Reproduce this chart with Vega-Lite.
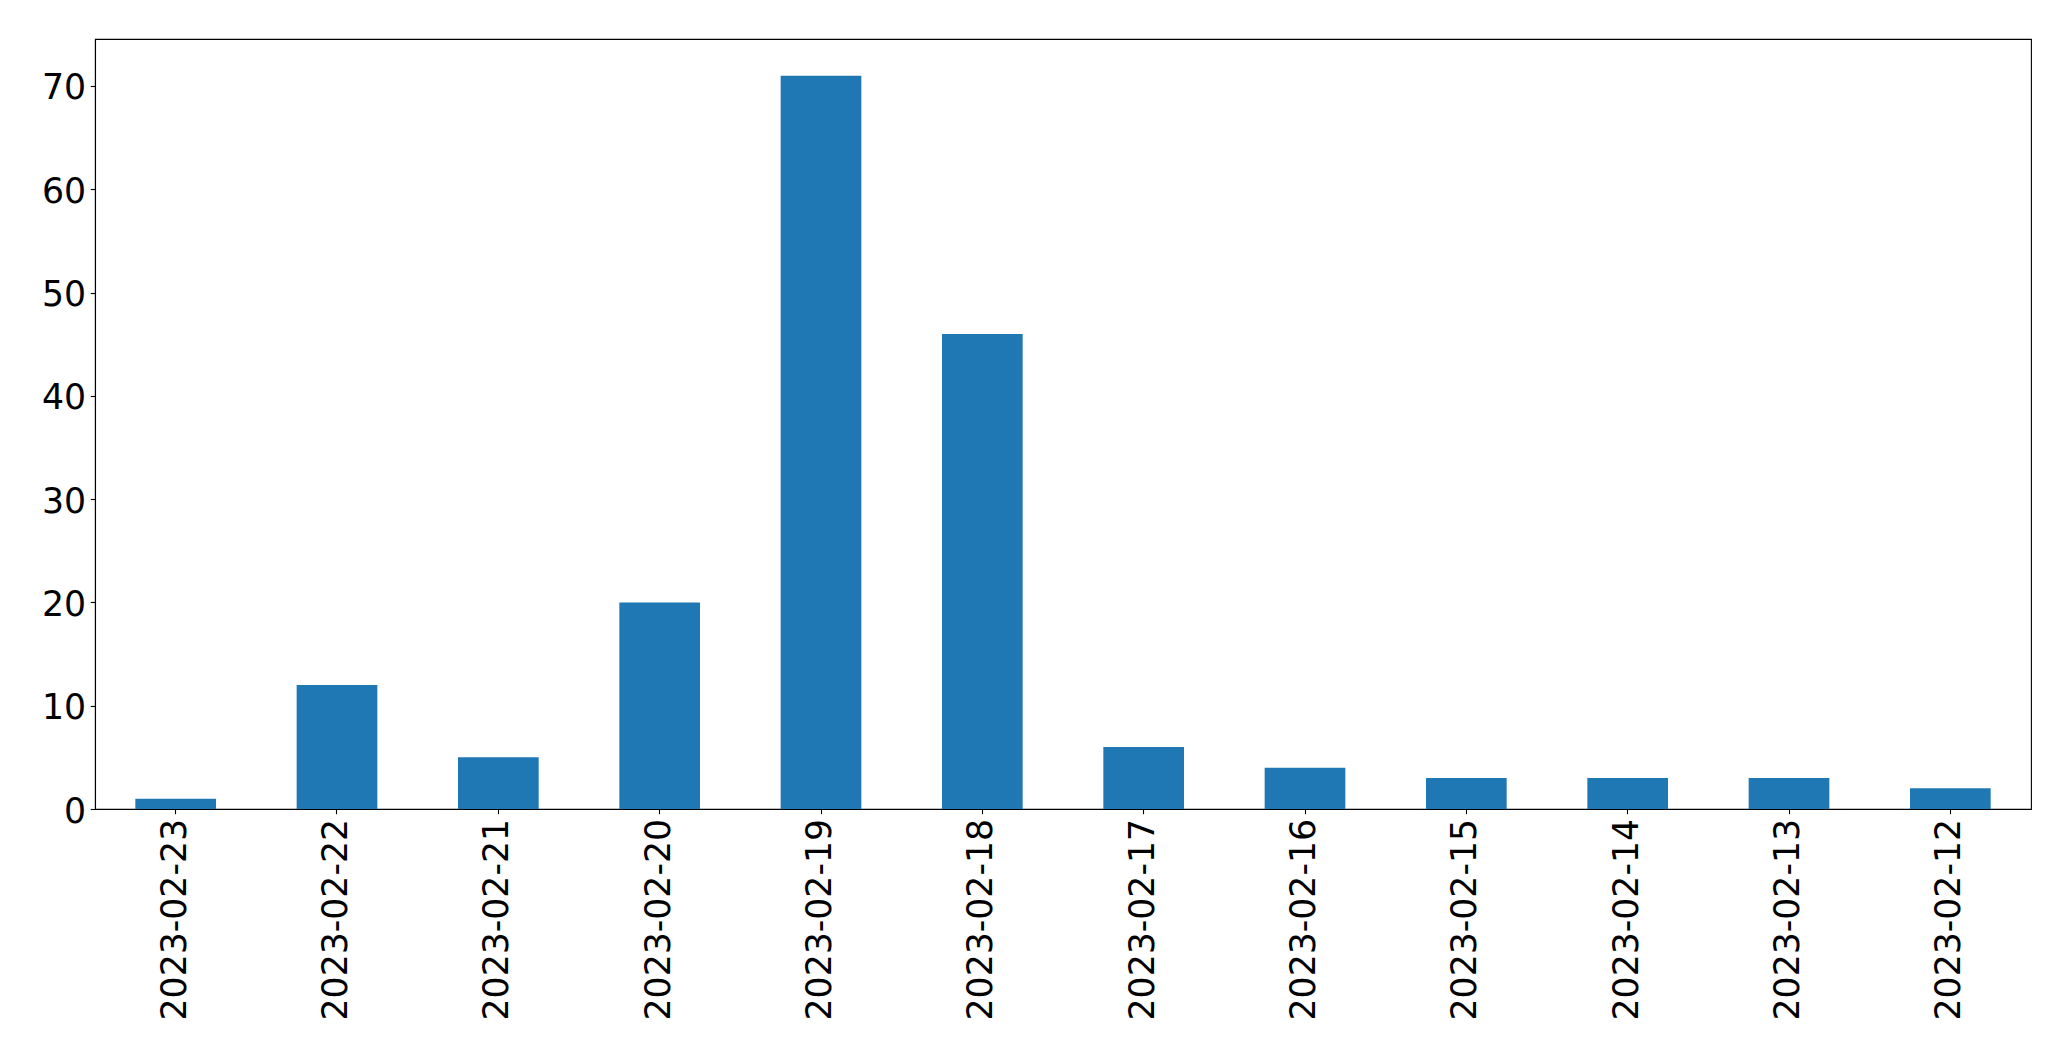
{
  "$schema": "https://vega.github.io/schema/vega-lite/v6.json",
  "autosize": "none",
  "width": 1936,
  "height": 770,
  "padding": {"left": 95, "top": 39, "right": 40, "bottom": 252},
  "background": "white",
  "config": {
    "view": {"stroke": "black", "strokeWidth": 1.1},
    "font": "DejaVu Sans",
    "axis": {
      "grid": false,
      "domainColor": "black",
      "tickColor": "black",
      "labelColor": "black",
      "labelFont": "DejaVu Sans",
      "labelFontSize": 34.7,
      "labelLimit": 0,
      "tickSize": 4.7,
      "labelPadding": 4.7,
      "title": null,
      "domainWidth": 1.1,
      "tickWidth": 1.1
    }
  },
  "data": {
    "values": [
      {"date": "2023-02-23", "count": 1},
      {"date": "2023-02-22", "count": 12},
      {"date": "2023-02-21", "count": 5},
      {"date": "2023-02-20", "count": 20},
      {"date": "2023-02-19", "count": 71},
      {"date": "2023-02-18", "count": 46},
      {"date": "2023-02-17", "count": 6},
      {"date": "2023-02-16", "count": 4},
      {"date": "2023-02-15", "count": 3},
      {"date": "2023-02-14", "count": 3},
      {"date": "2023-02-13", "count": 3},
      {"date": "2023-02-12", "count": 2}
    ]
  },
  "mark": {"type": "bar", "color": "#1f77b4"},
  "encoding": {
    "x": {
      "field": "date",
      "type": "nominal",
      "sort": null,
      "scale": {"paddingInner": 0.5, "paddingOuter": 0.25},
      "axis": {"labelAngle": -90, "labelAlign": "right", "labelBaseline": "middle"}
    },
    "y": {
      "field": "count",
      "type": "quantitative",
      "scale": {"domain": [0, 74.55], "nice": false},
      "axis": {"values": [0, 10, 20, 30, 40, 50, 60, 70], "labelOffset": 3}
    }
  }
}
